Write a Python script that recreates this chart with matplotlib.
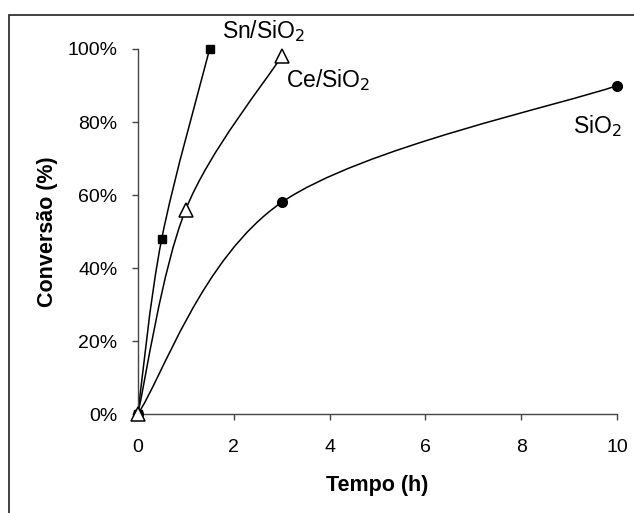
import numpy as np
import matplotlib.pyplot as plt
from matplotlib.path import Path
from matplotlib.patches import PathPatch, Rectangle

plt.rcParams['font.family'] = ['Liberation Sans', 'DejaVu Sans']

# data
sn_t = [0, 0.5, 1.5]
sn_conv = [0.0, 0.48, 1.00]
ce_t = [0, 1, 3]
ce_conv = [0.0, 0.56, 0.98]
si_t = [0, 3, 10]
si_conv = [0.0, 0.58, 0.90]

x_ticks = [0, 2, 4, 6, 8, 10]
y_ticks = [0, 0.2, 0.4, 0.6, 0.8, 1.0]


def smooth_path(xs, ys):
    # spreadsheet-style smoothed line: cubic bezier through the points
    p = np.column_stack([xs, ys]).astype(float)
    ext = np.vstack([p[0], p, p[-1]])
    verts = [p[0]]
    codes = [Path.MOVETO]
    for i in range(len(p) - 1):
        a, b, c, d = ext[i], ext[i + 1], ext[i + 2], ext[i + 3]
        verts += [b + (c - a) / 6, c - (d - b) / 6, c]
        codes += [Path.CURVE4] * 3
    return Path(verts, codes)


fig = plt.figure(figsize=(6.34, 5.13), dpi=100)
ax = fig.add_axes([0.2172, 0.1924, 0.7565, 0.7121])

for xs, ys in [(sn_t, sn_conv), (ce_t, ce_conv), (si_t, si_conv)]:
    ax.add_patch(PathPatch(smooth_path(xs, ys), fill=False, lw=1.1,
                           ec='black', clip_on=False))

ax.plot(sn_t, sn_conv, 's', color='black', ms=6.2, clip_on=False, zorder=5)
ax.plot(ce_t, ce_conv, '^', mfc='white', mec='black', mew=1.1, ms=10,
        clip_on=False, zorder=5)
ax.plot(si_t, si_conv, 'o', color='black', ms=7, clip_on=False, zorder=4)

ax.set_xlim(0, 10)
ax.set_ylim(0, 1)
ax.set_xticks(x_ticks)
ax.set_yticks(y_ticks)
ax.set_yticklabels([f'{int(round(v * 100))}%' for v in y_ticks])
ax.tick_params(labelsize=14, direction='out', length=4.5, width=1,
               color='#444444', pad=10)
ax.tick_params(axis='x', pad=13)
for s in ['top', 'right']:
    ax.spines[s].set_visible(False)
for s in ['left', 'bottom']:
    ax.spines[s].set_color('#444444')
    ax.spines[s].set_linewidth(1)

ax.set_xlabel('Tempo (h)', fontsize=15.5, fontweight='bold', labelpad=14)
ax.set_ylabel('Conversão (%)', fontsize=15.5, fontweight='bold', labelpad=7)

ax.text(1.75, 1.03, 'Sn/SiO$_2$', fontsize=16.5, ha='left', va='baseline')
ax.text(3.1, 0.896, 'Ce/SiO$_2$', fontsize=16.5, ha='left', va='baseline')
ax.text(10.1, 0.77, 'SiO$_2$', fontsize=16.5, ha='right', va='baseline')

fig.add_artist(Rectangle((9 / 634, -0.1), 1.5, 1 - 15 / 513 + 0.1,
                         transform=fig.transFigure, fill=False,
                         ec='#333333', lw=1.3))

fig.savefig('out.png', dpi=100)
